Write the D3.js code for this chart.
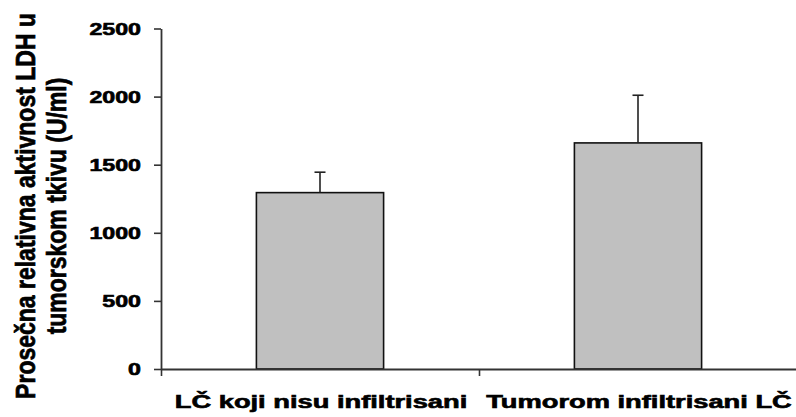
<!DOCTYPE html>
<html>
<head>
<meta charset="utf-8">
<script src="https://cdn.jsdelivr.net/npm/d3@7"></script>
<style>
  html, body { margin: 0; padding: 0; background: #fff; }
  svg { display: block; }
  text { font-family: "Liberation Sans", Arial, sans-serif; font-weight: bold; fill: #000; }
</style>
</head>
<body>
<svg id="chart" width="796" height="417"></svg>
<script>
// LDH activity by lymph-node group (mean with upper error bar)
const categories = ["LČ koji nisu infiltrisani", "Tumorom infiltrisani LČ"];
const means = [1295, 1660];
const errors = [150, 350];
const yTicks = [0, 500, 1000, 1500, 2000, 2500];
const titleLines = ["Prosečna relativna aktivnost LDH u", "tumorskom tkivu (U/ml)"];

const svg = d3.select("#chart");
const plot = { left: 161, right: 797, top: 28.5, bottom: 369 };
const heavy = 0.6;            // extra stroke weight on text

const x = d3.scaleBand().domain(categories).range([plot.left, plot.right]).padding(0);
const y = d3.scaleLinear().domain([0, 2500]).range([plot.bottom, plot.top]);
const boundary = d3.scaleLinear().domain([0, categories.length]).range([plot.left, plot.right]);

const data = categories.map((c, i) => ({ cat: c, mean: means[i], err: errors[i] }));
const barW = x.bandwidth() * 0.4;

// bars
svg.append("g").selectAll("rect").data(data).join("rect")
  .attr("x", d => x(d.cat) + (x.bandwidth() - barW) / 2)
  .attr("y", d => y(d.mean))
  .attr("width", barW)
  .attr("height", d => y(0) - y(d.mean))
  .attr("fill", "#c0c0c0")
  .attr("stroke", "#111")
  .attr("stroke-width", 1.6);

// upper error bars
const eb = svg.append("g").attr("stroke", "#222").attr("stroke-width", 1.6);
data.forEach(d => {
  const cx = x(d.cat) + x.bandwidth() / 2;
  eb.append("line").attr("x1", cx).attr("x2", cx).attr("y1", y(d.mean)).attr("y2", y(d.mean + d.err));
  eb.append("line").attr("x1", cx - 5.5).attr("x2", cx + 5.5).attr("y1", y(d.mean + d.err)).attr("y2", y(d.mean + d.err));
});

// y axis
const yAxis = svg.append("g")
  .attr("transform", `translate(${plot.left},0)`)
  .call(d3.axisLeft(y).tickValues(yTicks).tickSize(7).tickSizeOuter(0).tickFormat(d3.format("d")));
yAxis.select(".domain").attr("stroke", "#333").attr("stroke-width", 1.8);
yAxis.selectAll(".tick line").attr("stroke", "#333").attr("stroke-width", 1.6);
yAxis.selectAll(".tick text")
  .attr("x", 0).attr("dy", "0.36em")
  .attr("text-anchor", "end")
  .attr("font-size", 16)
  .attr("font-family", "'Liberation Sans', Arial, sans-serif")
  .attr("font-weight", "bold")
  .attr("fill", "#000")
  .attr("stroke", "#000").attr("stroke-width", heavy)
  .attr("transform", "translate(-20,0) scale(1.45,1)");

// x axis with ticks at category boundaries
const xAxis = svg.append("g")
  .attr("transform", `translate(0,${plot.bottom})`)
  .call(d3.axisBottom(boundary).tickValues(d3.range(categories.length + 1)).tickSize(7).tickSizeOuter(0).tickFormat(""));
xAxis.select(".domain").attr("stroke", "#333").attr("stroke-width", 1.8);
xAxis.selectAll(".tick line").attr("stroke", "#333").attr("stroke-width", 1.6);

// category labels
svg.append("g").selectAll("text").data(categories).join("text")
  .attr("transform", d => `translate(${x(d) + x.bandwidth() / 2 + 1},407.5) scale(1.56,1)`)
  .attr("text-anchor", "middle")
  .attr("font-size", 17.5)
  .attr("stroke", "#000").attr("stroke-width", heavy)
  .text(d => d);

// y axis title (two lines)
const titleG = svg.append("g").attr("transform", "translate(0,206)");
titleG.selectAll("text").data(titleLines).join("text")
  .attr("transform", (d, i) => `translate(${35 + i * 31},0) scale(1.2,1) rotate(-90)`)
  .attr("text-anchor", "middle")
  .attr("font-size", 23)
  .attr("stroke", "#000").attr("stroke-width", heavy)
  .text(d => d);
</script>
</body>
</html>
